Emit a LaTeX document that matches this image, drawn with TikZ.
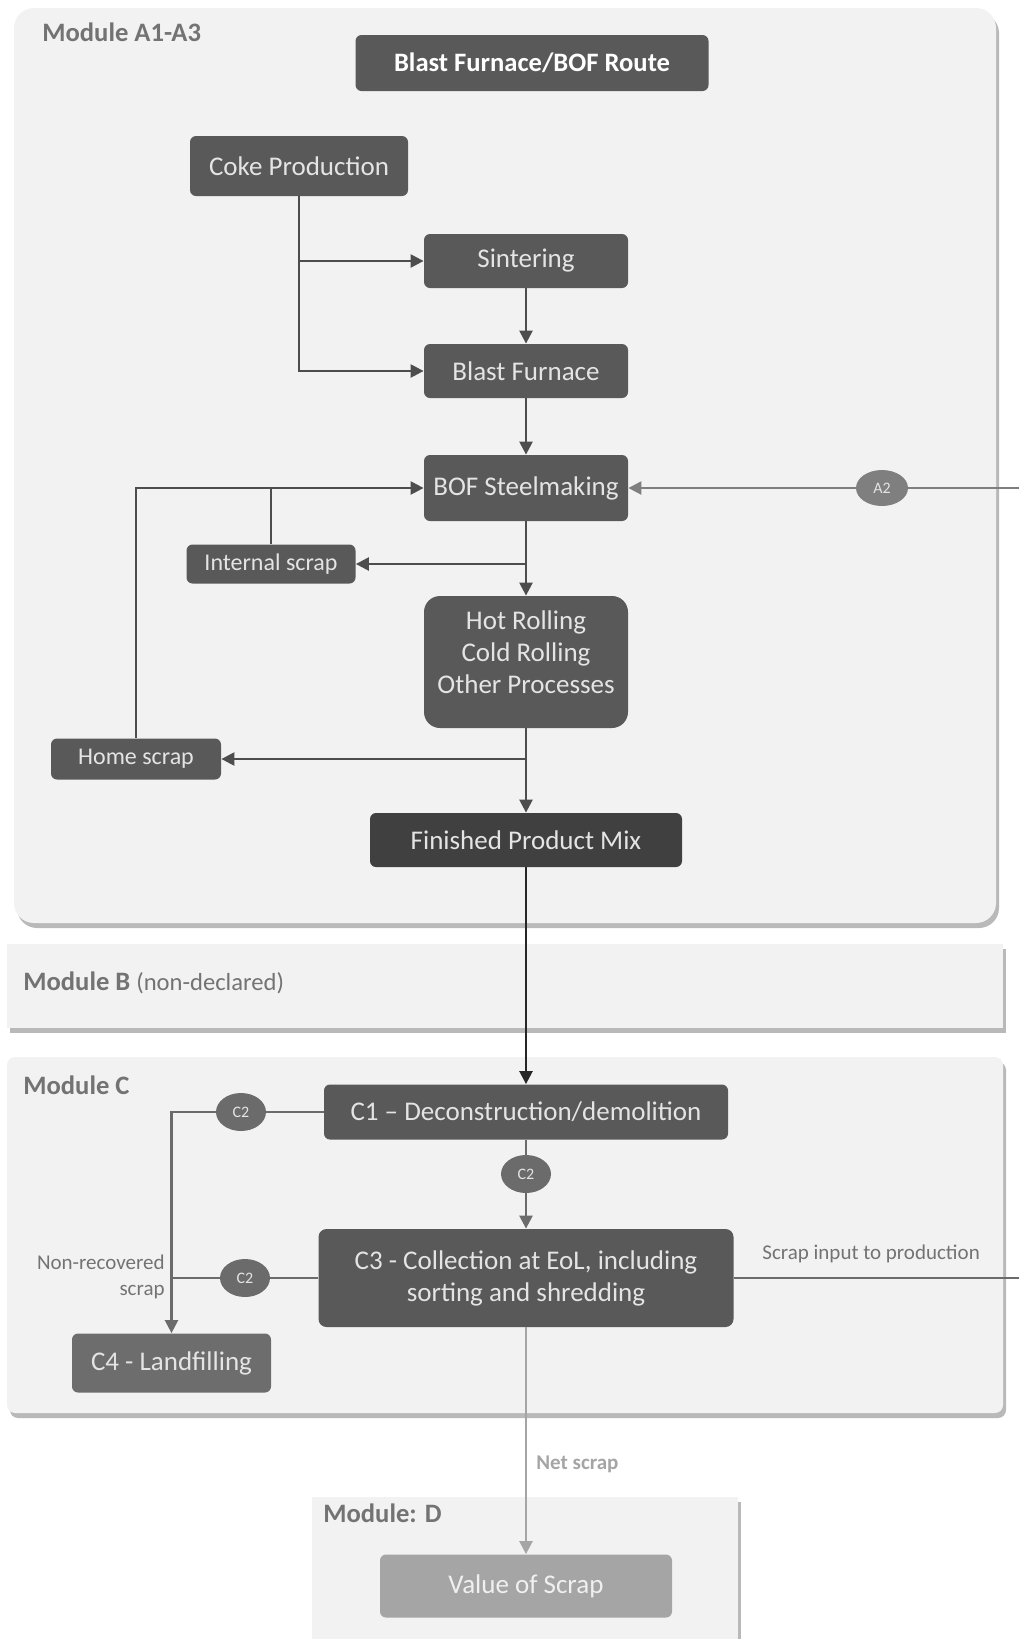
\documentclass[tikz,border=0pt]{standalone}
\usepackage{fontspec}
\setmainfont{Carlito}
\usetikzlibrary{arrows.meta,shapes.geometric,shadows,positioning}
\definecolor{modbg}{HTML}{F2F2F2}
\definecolor{boxgray}{HTML}{595959}
\definecolor{boxdark}{HTML}{404040}
\definecolor{boxtext}{HTML}{E4E4E4}
\definecolor{labelgray}{HTML}{737373}
\definecolor{linegray}{HTML}{4D4D4D}
\definecolor{tagA}{HTML}{7F7F7F}
\definecolor{tagC}{HTML}{6B6B6B}
\definecolor{c4gray}{HTML}{6D6D6D}
\definecolor{netgray}{HTML}{A5A5A5}
\tikzset{
	module/.style={
		fill=modbg, draw=none,
		drop shadow={shadow xshift=1.5pt, shadow yshift=-2.5pt, fill=black!50, opacity=0.55}
	},
	modlabel/.style={anchor=west, text=labelgray, font=\fontsize{13.3}{15}\selectfont\bfseries, inner sep=0pt},
	procbox/.style={
		rectangle, rounded corners=3pt, fill=boxgray, text=boxtext,
		font=\fontsize{13.5}{16}\selectfont, align=center, inner sep=0pt
	},
	smallbox/.style={procbox, font=\fontsize{12}{14}\selectfont},
	tag/.style={
		ellipse, fill=tagC, text=boxtext, inner sep=0pt,
		minimum width=25pt, minimum height=19pt, font=\fontsize{8}{9}\selectfont
	},
	note/.style={text=labelgray, font=\fontsize{10.5}{13}\selectfont, inner sep=0pt},
	flow/.style={draw=linegray, line width=1.2pt, -{Triangle[width=6.5pt,length=6.5pt]}},
	plain/.style={draw=linegray, line width=1.2pt}
}

\begin{document}
\begin{tikzpicture}[x=0.5pt, y=-0.5pt]
	\useasboundingbox (0,0) rectangle (1019,1639);
	% module backgrounds
	\path[module, rounded corners=10pt] (14,8) rectangle (996,923);
	\path[module] (7,944) rectangle (1003,1028);
	\path[module, rounded corners=4pt] (7,1057) rectangle (1003,1413);
	\path[module] (312,1497) rectangle (738,1645);
	\node[modlabel] (labA) at (42,32) {Module A1-A3};
	\node[modlabel] (labB) at (23,983) {Module B {\mdseries\fontsize{12.3}{15}\selectfont(non-declared)}};
	\node[modlabel] (labC) at (23,1085) {Module C};
	\node[modlabel] (labD) at (323,1513) {Module: D};

	% production route
	\node[procbox, minimum width=176.5pt, minimum height=28pt, font=\fontsize{13.3}{16}\selectfont\bfseries, text=white] (route) at (532,63) {Blast Furnace/BOF Route};
	\node[procbox, minimum width=109pt, minimum height=30pt] (coke) at (299,166) {Coke Production};
	\node[procbox, minimum width=102pt, minimum height=27pt] (sint) at (526,261) {Sintering};
	\node[procbox, minimum width=102pt, minimum height=27pt] (bf) at (526,371) {Blast Furnace};
	\node[procbox, minimum width=102pt, minimum height=33pt] (bof) at (526,488) {BOF Steelmaking};
	\node[smallbox, minimum width=84.5pt, minimum height=19.5pt] (intscrap) at (271,564) {Internal scrap};
	\node[procbox, rounded corners=8pt, minimum width=102pt, minimum height=66pt] (rolling) at (526,662) {Hot Rolling\\Cold Rolling\\Other Processes\\[-6pt]\mbox{}};
	\node[smallbox, minimum width=85pt, minimum height=20.5pt] (homescrap) at (136,759) {Home scrap};
	\node[procbox, fill=boxdark, minimum width=156pt, minimum height=27pt] (product) at (526,840) {Finished Product Mix};
	\node[tag, fill=tagA, minimum width=26pt, minimum height=18pt] (tagA2) at (882,488) {A2};
	\coordinate (scrapin) at (1019,488);

	% end of life
	\node[procbox, minimum width=202pt, minimum height=27.5pt] (c1) at (526,1112) {C1 -- Deconstruction/demolition};
	\node[tag] (c2left) at (241,1112) {C2};
	\node[tag] (c2mid) at (526,1174) {C2};
	\node[procbox, rounded corners=4pt, minimum width=207.5pt, minimum height=49pt] (c3) at (526,1278) {C3 - Collection at EoL, including\\sorting and shredding};
	\node[tag] (c2low) at (245,1278) {C2};
	\node[procbox, fill=c4gray, minimum width=99.5pt, minimum height=29.5pt] (c4) at (171.5,1363) {C4 - Landfilling};
	\node[note, anchor=east, align=right] (nonrec) at (165,1277) {Non-recovered\\scrap};
	\node[note, anchor=west] (scrapnote) at (762,1254) {Scrap input to production};
	\coordinate (scrapout) at (1019,1278);
	\node[procbox, fill=netgray, text=white!94!black, minimum width=146pt, minimum height=31.5pt] (value) at (526,1586) {Value of Scrap};
	\node[note, anchor=west, text=netgray, font=\fontsize{10.5}{13}\selectfont\bfseries] (netnote) at (536,1464) {Net scrap};

	% connectors
	\draw[flow] (coke.south) |- (sint.west);
	\draw[flow] (coke.south) |- (bf.west);
	\draw[flow] (sint) -- (bf);
	\draw[flow] (bf) -- (bof);
	\draw[flow] (bof) -- (rolling);
	\draw[flow] (intscrap.east -| bof.south) -- (intscrap.east);
	\draw[flow] (homescrap.north) |- (bof.west);
	\draw[plain] (intscrap.north) -- (intscrap.north |- bof.west);
	\draw[flow] (rolling) -- (product);
	\draw[flow] (homescrap.east -| rolling.south) -- (homescrap.east);
	\draw[plain, draw=tagA] (scrapin) -- (tagA2.east);
	\draw[flow, draw=tagA] (tagA2.west) -- (bof.east);
	\draw[flow, draw=black!85] (product) -- (c1);
	\draw[plain, draw=tagC] (c1.west) -- (c2left.east);
	\draw[flow, draw=tagC] (c2left.west) -| (c4.north);
	\draw[plain, draw=tagC] (c1.south) -- (c2mid.north);
	\draw[flow, draw=tagC] (c2mid.south) -- (c3.north);
	\draw[plain, draw=tagC] (c3.west) -- (c2low.east);
	\draw[plain, draw=tagC] (c2low.west) -- (c2low.west -| c4.north);
	\draw[plain, draw=tagC] (c3.east) -- (scrapout);
	\draw[flow, draw=netgray] (c3.south) -- (value.north);
\end{tikzpicture}
\end{document}
